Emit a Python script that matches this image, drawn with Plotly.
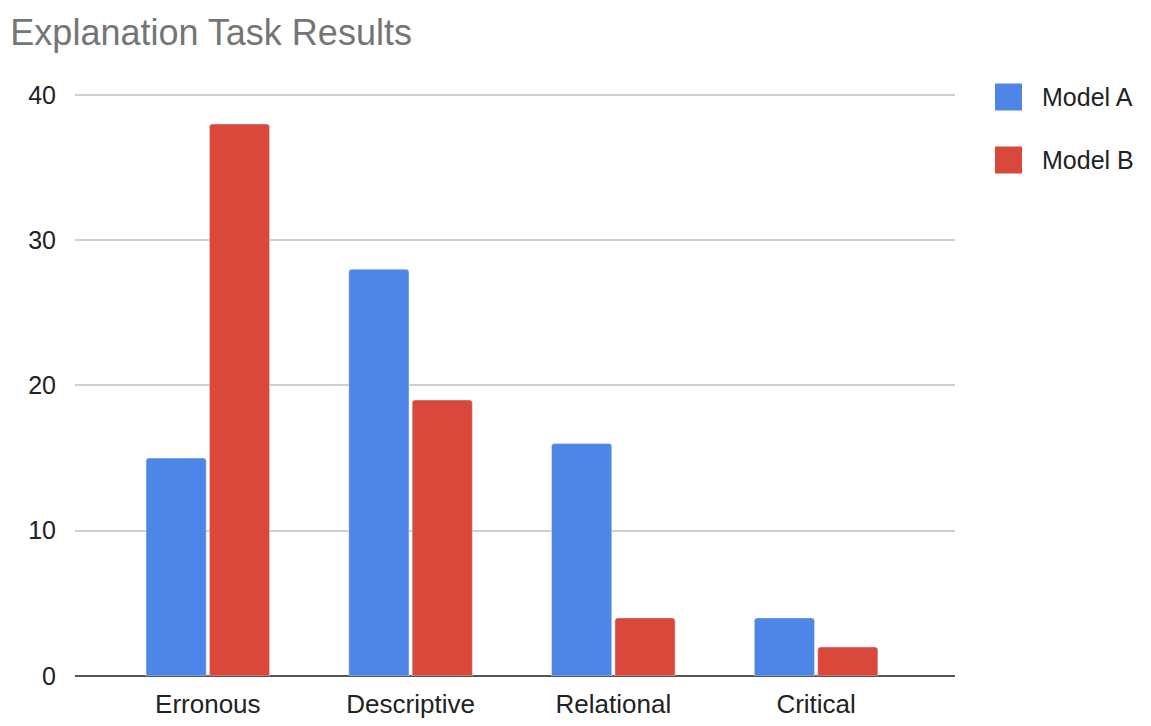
import plotly.graph_objects as go

categories = ["Erronous", "Descriptive", "Relational", "Critical"]
model_a = [15, 28, 16, 4]
model_b = [38, 19, 4, 2]
series_names = ["Model A", "Model B"]
series_colors = ["#4e86e8", "#d9483b"]
y_ticks = [0, 10, 20, 30, 40]

FONT = "Liberation Sans, Arial, sans-serif"

# plot area geometry in pixels (for paper-coordinate conversions of the legend)
L, R, T, B = 75, 196, 92, 50
W, H = 1151, 726
PW, PH = W - L - R, H - T - B


def px_x(px):
    return (px - L) / PW


def px_y(py):
    return (H - B - py) / PH


fig = go.Figure()
for name, vals, col in zip(series_names, [model_a, model_b], series_colors):
    fig.add_trace(go.Bar(x=categories, y=vals, name=name, marker_color=col, showlegend=False))

shapes = []
annotations = []
legend_rows = [97, 160]
for name, col, cy in zip(series_names, series_colors, legend_rows):
    shapes.append(dict(type="rect", xref="paper", yref="paper",
                       x0=px_x(995), x1=px_x(1022), y0=px_y(cy + 13.5), y1=px_y(cy - 13.5),
                       fillcolor=col, line=dict(width=0)))
    annotations.append(dict(text=name, xref="paper", yref="paper", x=px_x(1040), y=px_y(cy),
                            xanchor="left", yanchor="middle", showarrow=False,
                            font=dict(family=FONT, size=25, color="#222222")))

fig.update_layout(
    width=W, height=H,
    paper_bgcolor="white", plot_bgcolor="white",
    margin=dict(l=L, r=R, t=T, b=B, autoexpand=False),
    barmode="group", bargap=0.375, bargroupgap=0.05, barcornerradius=3,
    title=dict(text="Explanation Task Results", x=0.009, xref="container", xanchor="left",
               y=0.955, yanchor="middle", yref="container",
               font=dict(family=FONT, size=36, color="#757575")),
    font=dict(family=FONT, color="#222222"),
    showlegend=False,
    shapes=shapes,
    annotations=annotations,
    xaxis=dict(range=[-0.655, 3.685], showgrid=False, showline=False, zeroline=False,
               automargin=False,
               tickfont=dict(family=FONT, size=26, color="#222222"),
               ticks="", ticklabelstandoff=10),
    yaxis=dict(range=[0, 40.2], tickvals=y_ticks, showgrid=True, gridcolor="#d0d0d0", gridwidth=2,
               zeroline=True, zerolinecolor="#555555", zerolinewidth=2, showline=False,
               automargin=False,
               tickfont=dict(family=FONT, size=25, color="#222222"),
               ticks="", ticklabelstandoff=18),
)

fig.write_html("out.html")
